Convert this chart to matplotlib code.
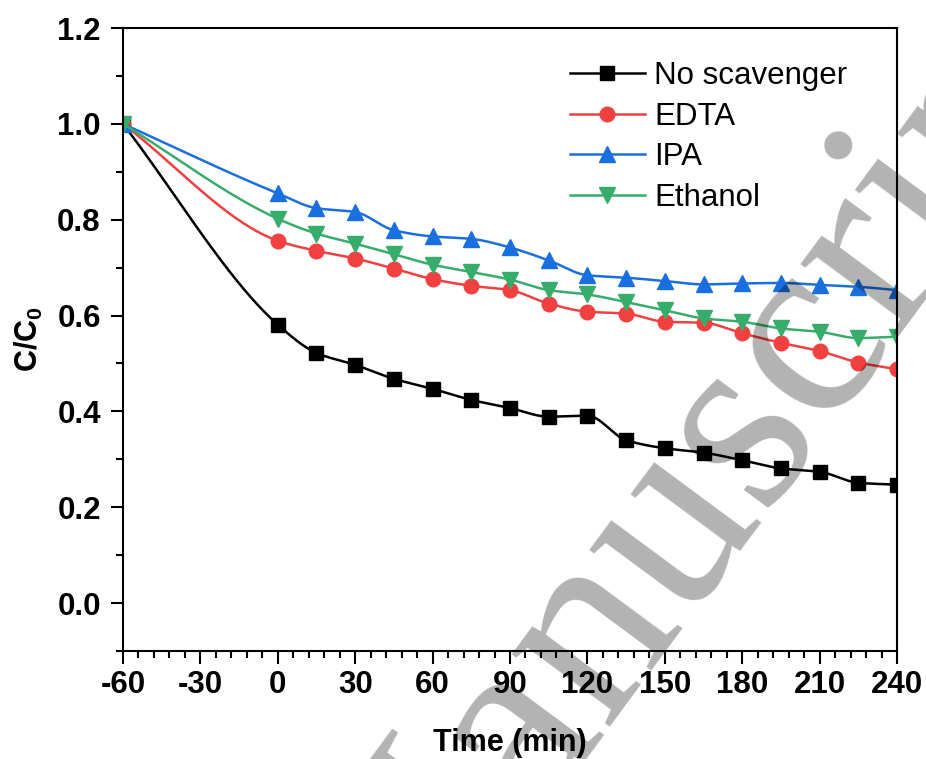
import numpy as np
import matplotlib
matplotlib.use('Agg')
import matplotlib.pyplot as plt
from matplotlib.ticker import FixedLocator

plt.rcParams['font.family'] = ['Liberation Sans', 'DejaVu Sans']
plt.rcParams['mathtext.fontset'] = 'custom'
plt.rcParams['mathtext.rm'] = 'Liberation Sans'
plt.rcParams['mathtext.bf'] = 'Liberation Sans:bold'
plt.rcParams['axes.unicode_minus'] = False

# --- data ---
time_min = [-60, 0, 15, 30, 45, 60, 75, 90, 105, 120, 135, 150, 165, 180, 195, 210, 225, 240]
no_scavenger = [1.0, 0.581, 0.522, 0.497, 0.468, 0.447, 0.424, 0.407, 0.389, 0.391,
                0.340, 0.323, 0.314, 0.298, 0.281, 0.274, 0.251, 0.247]
edta = [1.0, 0.756, 0.735, 0.719, 0.698, 0.676, 0.662, 0.653, 0.625, 0.608,
        0.604, 0.587, 0.585, 0.563, 0.543, 0.526, 0.502, 0.488]
ipa = [1.0, 0.855, 0.824, 0.816, 0.778, 0.765, 0.760, 0.742, 0.715, 0.684,
       0.679, 0.672, 0.665, 0.667, 0.668, 0.664, 0.660, 0.653]
ethanol = [1.0, 0.802, 0.771, 0.750, 0.728, 0.706, 0.691, 0.675, 0.653, 0.644,
           0.628, 0.611, 0.594, 0.587, 0.573, 0.566, 0.553, 0.556]

series = [
    ('No scavenger', no_scavenger, 'black', 's', 9.5),
    ('EDTA', edta, '#F14040', 'o', 10.5),
    ('IPA', ipa, '#1A6FDF', '^', 11),
    ('Ethanol', ethanol, '#37AD6B', 'v', 11),
]


def pchip(x, y, xs):
    # monotone cubic interpolation, used for the smooth connecting lines
    x = np.asarray(x, float)
    y = np.asarray(y, float)
    h = np.diff(x)
    d = np.diff(y) / h
    m = np.zeros_like(y)
    for k in range(1, len(x) - 1):
        if d[k - 1] * d[k] > 0:
            w1 = 2 * h[k] + h[k - 1]
            w2 = h[k] + 2 * h[k - 1]
            m[k] = (w1 + w2) / (w1 / d[k - 1] + w2 / d[k])
    m[0] = d[0]
    m[-1] = d[-1]
    idx = np.clip(np.searchsorted(x, xs) - 1, 0, len(x) - 2)
    t = (xs - x[idx]) / h[idx]
    h00 = 2 * t**3 - 3 * t**2 + 1
    h10 = t**3 - 2 * t**2 + t
    h01 = -2 * t**3 + 3 * t**2
    h11 = t**3 - t**2
    return h00 * y[idx] + h10 * h[idx] * m[idx] + h01 * y[idx + 1] + h11 * h[idx] * m[idx + 1]


fig = plt.figure(figsize=(9.26, 7.59), dpi=100)
ax = fig.add_axes([0.1328, 0.1423, 0.8359, 0.8208])

xs = np.linspace(time_min[0], time_min[-1], 600)
for name, vals, color, marker, ms in series:
    ax.plot(xs, pchip(time_min, vals, xs), color=color, lw=1.8)
    ax.plot(time_min, vals, linestyle='none', marker=marker, ms=ms, color=color)
    # proxy for the legend
    ax.plot([], [], color=color, lw=1.8, marker=marker, ms=ms, label=name)

ax.set_xlim(-60, 240)
ax.set_ylim(-0.1, 1.2)
ax.xaxis.set_major_locator(FixedLocator(np.arange(-60, 241, 30)))
ax.xaxis.set_minor_locator(FixedLocator(np.arange(-60, 241, 6)))
ax.yaxis.set_major_locator(FixedLocator(np.round(np.arange(0, 1.21, 0.2), 1)))
ax.yaxis.set_minor_locator(FixedLocator(np.round(np.arange(-0.1, 1.21, 0.1), 1)))
ax.yaxis.set_major_formatter(plt.FuncFormatter(lambda v, p: f'{v:.1f}'))

ax.tick_params(which='major', direction='out', length=9, width=1.5, labelsize=22.5, pad=5)
ax.tick_params(axis='y', which='major', pad=7)
ax.tick_params(which='minor', direction='out', length=5, width=1.5)
for lab in ax.get_xticklabels() + ax.get_yticklabels():
    lab.set_fontweight('bold')
for sp in ax.spines.values():
    sp.set_linewidth(1.5)

ax.set_xlabel('Time (min)', fontsize=22, fontweight='bold', labelpad=20)
ax.set_ylabel(r'$\mathbf{C/C_0}$', fontsize=22, labelpad=9)

handles, labels = ax.get_legend_handles_labels()
ax.legend(handles[-4:], labels[-4:], loc='upper left', bbox_to_anchor=(0.5775, 0.947),
          frameon=False, fontsize=22.5, handlelength=2.4, handletextpad=0.3,
          labelspacing=0.34, borderpad=0, borderaxespad=0)

# watermark of the source page
fig.text(0.4254, -0.3294, 'Manuscript', rotation=53.5, rotation_mode='anchor',
         ha='left', va='baseline', fontsize=191, family='Liberation Serif',
         color='black', alpha=0.3, zorder=10)

fig.savefig('out.png', dpi=100)
